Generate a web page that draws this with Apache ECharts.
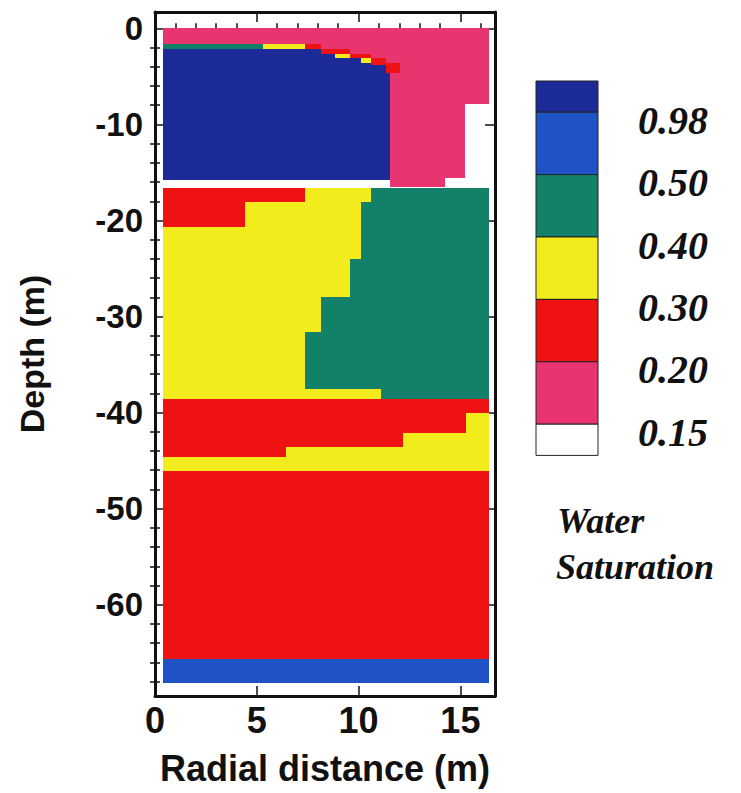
<!DOCTYPE html>
<html>
<head>
<meta charset="utf-8">
<script src="https://cdn.jsdelivr.net/npm/echarts@6/dist/echarts.min.js"></script>
<style>
  html, body { margin: 0; padding: 0; background: #fff; }
  #chart { width: 741px; height: 793px; }
</style>
</head>
<body>
<div id="chart"></div>
<script>
// each cell: [r from, r to, depth top, depth bottom, water saturation]
const topLayer = [
  [0.38, 16.41, 0, -1.6, 0.17],
  [0.38, 5.3, -1.6, -2.1, 0.45],
  [5.3, 7.35, -1.6, -2.1, 0.35],
  [7.35, 8.17, -1.6, -2.1, 0.25],
  [8.17, 16.41, -1.6, -2.1, 0.17],
  [0.38, 8.17, -2.1, -2.63, 0.99],
  [8.17, 9.56, -2.1, -2.63, 0.25],
  [9.56, 16.41, -2.1, -2.63, 0.17],
  [0.38, 8.82, -2.63, -3.09, 0.99],
  [8.82, 9.56, -2.63, -3.09, 0.35],
  [9.56, 10.62, -2.63, -3.09, 0.25],
  [10.62, 16.41, -2.63, -3.09, 0.17],
  [0.38, 10.13, -3.09, -3.57, 0.99],
  [10.13, 10.62, -3.09, -3.57, 0.35],
  [10.62, 11.36, -3.09, -3.57, 0.25],
  [11.36, 16.41, -3.09, -3.57, 0.17],
  [0.38, 10.62, -3.57, -3.85, 0.99],
  [10.62, 12.02, -3.57, -3.85, 0.25],
  [12.02, 16.41, -3.57, -3.85, 0.17],
  [0.38, 11.36, -3.85, -4.61, 0.99],
  [11.36, 12.02, -3.85, -4.61, 0.25],
  [12.02, 16.41, -3.85, -4.61, 0.17],
  [0.38, 11.52, -4.61, -15.8, 0.99],
  [11.52, 16.41, -4.61, -7.83, 0.17],
  [11.52, 15.21, -7.83, -15.6, 0.17],
  [11.52, 14.23, -15.6, -16.5, 0.17]
];

const middleLayer = [
  [0.38, 7.35, -16.6, -18.06, 0.25],
  [7.35, 10.62, -16.6, -18.06, 0.35],
  [10.62, 16.41, -16.6, -18.06, 0.45],
  [0.38, 4.4, -18.06, -20.66, 0.25],
  [4.4, 10.13, -18.06, -20.66, 0.35],
  [10.13, 16.41, -18.06, -24.05, 0.45],
  [0.38, 10.13, -20.66, -24.05, 0.35],
  [0.38, 9.56, -24.05, -28.0, 0.35],
  [9.56, 16.41, -24.05, -28.0, 0.45],
  [0.38, 8.17, -28.0, -31.58, 0.35],
  [8.17, 16.41, -28.0, -31.58, 0.45],
  [0.38, 7.38, -31.58, -37.57, 0.35],
  [7.38, 16.41, -31.58, -37.57, 0.45],
  [0.38, 11.12, -37.57, -38.6, 0.35],
  [11.12, 16.41, -37.57, -38.6, 0.45]
];

const lowerLayer = [
  [0.38, 16.41, -38.6, -40.06, 0.25],
  [0.38, 15.3, -40.06, -42.08, 0.25],
  [15.3, 16.41, -40.06, -42.08, 0.35],
  [0.38, 12.18, -42.08, -43.54, 0.25],
  [12.18, 16.41, -42.08, -43.54, 0.35],
  [0.38, 6.45, -43.54, -44.58, 0.25],
  [6.45, 16.41, -43.54, -44.58, 0.35],
  [0.38, 16.41, -44.58, -46.03, 0.35]
];

const bottomLayer = [
  [0.38, 16.41, -46.03, -65.64, 0.25],
  [0.38, 16.41, -65.64, -68.14, 0.7]
];

const xMajor = [0, 5, 10, 15];
const xMinor = [1, 2, 3, 4, 6, 7, 8, 9, 11, 12, 13, 14, 16];
const yMajor = [0, -10, -20, -30, -40, -50, -60];
const yMinor = [-2, -4, -6, -8, -12, -14, -16, -18, -22, -24, -26, -28, -32, -34, -36, -38,
  -42, -44, -46, -48, -52, -54, -56, -58, -62, -64, -66, -68];

const legendLabels = ['0.98', '0.50', '0.40', '0.30', '0.20', '0.15'];
const legendColors = ['#1c2b98', '#1f52c4', '#138069', '#f2ec1c', '#ee1212', '#e8346f', '#ffffff'];

const cells = topLayer.concat(middleLayer, lowerLayer, bottomLayer);

const chart = echarts.init(document.getElementById('chart'), null, { renderer: 'svg' });

const gridBox = { left: 155, top: 12, width: 340, height: 684 };
const ink = '#111';
const tickFont = { color: ink, fontFamily: 'Liberation Sans', fontWeight: 'bold' };

const xRange = { type: 'value', min: 0, max: 16.7, splitLine: { show: false } };
const yRange = { type: 'value', min: -69.5, max: 1.7, splitLine: { show: false } };

const majorTick = (vals) => ({ show: true, inside: true, length: 10, customValues: vals, lineStyle: { color: ink, width: 1.5 } });
const minorTick = (vals) => ({ show: true, inside: true, length: 5, customValues: vals, lineStyle: { color: ink, width: 1.5 } });

// legend boxes and labels (not data marks)
const legendGraphic = [];
const boxLeft = 536, boxWidth = 62, boxTop = 81, fullH = 62.4, halfH = 31.2;
let yy = boxTop;
legendColors.forEach((c, i) => {
  const h = (i === 0 || i === legendColors.length - 1) ? halfH : fullH;
  legendGraphic.push({
    type: 'rect',
    shape: { x: boxLeft, y: yy, width: boxWidth, height: h },
    style: { fill: c, stroke: '#222', lineWidth: 1 }
  });
  yy += h;
  if (i < legendLabels.length) {
    legendGraphic.push({
      type: 'text',
      x: 638, y: yy + 8,
      style: {
        text: legendLabels[i], fill: ink, font: 'italic bold 40px "Liberation Serif"',
        verticalAlign: 'middle'
      }
    });
  }
});
legendGraphic.push({
  type: 'text', x: 557, y: 521,
  style: { text: 'Water', fill: ink, font: 'italic bold 36px "Liberation Serif"', verticalAlign: 'middle' }
});
legendGraphic.push({
  type: 'text', x: 556, y: 567,
  style: { text: 'Saturation', fill: ink, font: 'italic bold 36px "Liberation Serif"', verticalAlign: 'middle' }
});

const option = {
  animation: false,
  backgroundColor: '#fff',
  grid: [
    Object.assign({ containLabel: false }, gridBox),
    Object.assign({ containLabel: false }, gridBox)
  ],
  xAxis: [
    Object.assign({}, xRange, {
      gridIndex: 0, position: 'bottom',
      axisLine: { show: true, onZero: false, lineStyle: { color: ink, width: 3 } },
      axisTick: majorTick(xMajor),
      axisLabel: Object.assign({ customValues: xMajor, fontSize: 36, margin: 6 }, tickFont),
      name: 'Radial distance (m)', nameLocation: 'middle', nameGap: 54,
      nameTextStyle: { color: ink, fontFamily: 'Liberation Sans', fontWeight: 'bold', fontSize: 36 }
    }),
    Object.assign({}, xRange, {
      gridIndex: 0, position: 'top',
      axisLine: { show: true, onZero: false, lineStyle: { color: ink, width: 3 } },
      axisTick: majorTick(xMajor),
      axisLabel: { show: false }
    }),
    Object.assign({}, xRange, {
      gridIndex: 1, position: 'bottom',
      axisLine: { show: false }, axisTick: minorTick(xMinor), axisLabel: { show: false }
    }),
    Object.assign({}, xRange, {
      gridIndex: 1, position: 'top',
      axisLine: { show: false }, axisTick: minorTick(xMinor), axisLabel: { show: false }
    })
  ],
  yAxis: [
    Object.assign({}, yRange, {
      gridIndex: 0, position: 'left',
      axisLine: { show: true, onZero: false, lineStyle: { color: ink, width: 3 } },
      axisTick: majorTick(yMajor),
      axisLabel: Object.assign({ customValues: yMajor, fontSize: 33, margin: 12 }, tickFont),
      name: 'Depth (m)', nameLocation: 'middle', nameGap: 106, nameRotate: 90,
      nameTextStyle: { color: ink, fontFamily: 'Liberation Sans', fontWeight: 'bold', fontSize: 34 }
    }),
    Object.assign({}, yRange, {
      gridIndex: 0, position: 'right',
      axisLine: { show: true, onZero: false, lineStyle: { color: ink, width: 3 } },
      axisTick: majorTick(yMajor),
      axisLabel: { show: false }
    }),
    Object.assign({}, yRange, {
      gridIndex: 1, position: 'left',
      axisLine: { show: false }, axisTick: minorTick(yMinor), axisLabel: { show: false }
    }),
    Object.assign({}, yRange, {
      gridIndex: 1, position: 'right',
      axisLine: { show: false }, axisTick: minorTick(yMinor), axisLabel: { show: false }
    })
  ],
  visualMap: {
    type: 'piecewise',
    show: false,
    dimension: 4,
    seriesIndex: 0,
    pieces: [
      { gt: 0.98, color: legendColors[0] },
      { gt: 0.5, lte: 0.98, color: legendColors[1] },
      { gt: 0.4, lte: 0.5, color: legendColors[2] },
      { gt: 0.3, lte: 0.4, color: legendColors[3] },
      { gt: 0.2, lte: 0.3, color: legendColors[4] },
      { gt: 0.15, lte: 0.2, color: legendColors[5] },
      { lte: 0.15, color: legendColors[6] }
    ]
  },
  graphic: legendGraphic,
  series: [{
    type: 'custom',
    xAxisIndex: 0,
    yAxisIndex: 0,
    data: cells,
    encode: { x: [0, 1], y: [2, 3] },
    renderItem: (params, api) => {
      const a = api.coord([api.value(0), api.value(2)]);
      const b = api.coord([api.value(1), api.value(3)]);
      // snap to whole pixels so neighbouring cells join without seams
      const x0 = Math.round(a[0]), y0 = Math.round(a[1]);
      const x1 = Math.round(b[0]), y1 = Math.round(b[1]);
      return {
        type: 'rect',
        shape: { x: x0, y: y0, width: x1 - x0, height: y1 - y0 },
        style: { fill: api.visual('color') }
      };
    }
  }]
};

chart.setOption(option);
</script>
</body>
</html>
